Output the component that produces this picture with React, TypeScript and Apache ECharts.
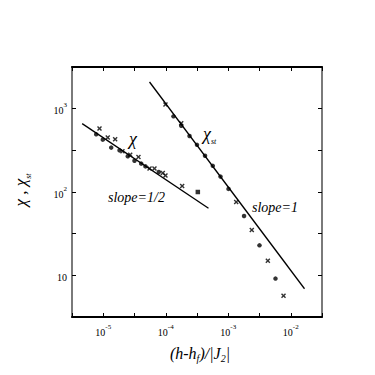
import React, { useEffect, useRef } from "react";
import * as echarts from "echarts";

// χ series (raw values)
const chiDots: [number, number][] = [
  [7.71e-6, 492], [9.84e-6, 425], [1.34e-5, 341], [1.82e-5, 316], [2.47e-5, 268],
  [3.16e-5, 237], [4.05e-5, 219], [4.74e-5, 203], [7.74e-5, 174],
];
const chiCrosses: [number, number][] = [
  [8.71e-6, 577], [1.18e-5, 450], [1.55e-5, 429], [2.03e-5, 308], [2.7e-5, 279],
  [3.66e-5, 263], [5.5e-5, 191], [6.6e-5, 191], [8.97e-5, 169], [9.9e-5, 158],
  [1.83e-4, 118],
];
const chiSquares: [number, number][] = [[3.26e-4, 100]];

// χ_st series
const chiStCrosses: [number, number][] = [
  [9.9e-5, 1119], [1.77e-4, 667], [1.34e-3, 75.9], [2.38e-3, 35.0], [4.3e-3, 15.0], [7.66e-3, 5.68],
];
const chiStDots: [number, number][] = [
  [1.33e-4, 809], [1.77e-4, 622], [2.4e-4, 470], [3.16e-4, 368], [4.25e-4, 272],
  [5.66e-4, 206], [7.52e-4, 153], [1.01e-3, 109], [1.79e-3, 51.5], [3.16e-3, 22.9], [5.7e-3, 9.14],
];

// fitted power-law lines (endpoints)
const chiFit: [number, number][] = [[4.6e-6, 662], [4.83e-4, 63.7]];
const chiStFit: [number, number][] = [[5.5e-5, 2090], [1.66e-2, 6.9]];

const xLabelExps = [-5, -4, -3, -2];
const yLabelExps = [1, 2, 3];

const toLog = (arr: [number, number][]) => arr.map(([x, y]) => [Math.log10(x), Math.log10(y)]);

const SERIF = "'Liberation Serif', 'DejaVu Serif', serif";
const CROSS = "path://M0,2L2,0L5,3L8,0L10,2L7,5L10,8L8,10L5,7L2,10L0,8L3,5Z";

export default function App() {
  const ref = useRef<HTMLDivElement>(null);
  useEffect(() => {
    if (!ref.current) return;
    const chart = echarts.init(ref.current, undefined, { renderer: "svg" });
    const supFmt = (exps: number[]) => (v: number) => {
      const r = Math.round(v);
      if (Math.abs(v - r) > 1e-6 || !exps.includes(r)) return "";
      if (r === 1) return "{b|10}";
      return `{b|10}{s|${r}}`;
    };
    const rich = {
      b: { fontSize: 10, fontFamily: SERIF, color: "#000", lineHeight: 14, verticalAlign: "bottom" },
      s: { fontSize: 7, fontFamily: SERIF, color: "#000", lineHeight: 8, verticalAlign: "top" },
    };
    const grayLine = { lineStyle: { color: "#7a7a7a", width: 2 } };
    const blackLine = { lineStyle: { color: "#000", width: 2 } };
    const tick = { show: true, inside: true, length: 4, lineStyle: { color: "#000", width: 1 } };
    const scatterBase = { type: "scatter", xAxisIndex: 0, yAxisIndex: 0, z: 3 };
    chart.setOption({
      animation: false,
      backgroundColor: "#fff",
      grid: { left: 72, right: 53, top: 67, bottom: 58, containLabel: false },
      xAxis: [
        {
          type: "value", min: -5.5, max: -1.5, interval: 0.5, position: "bottom",
          axisLine: { show: true, onZero: false, ...blackLine },
          axisTick: tick, splitLine: { show: false },
          axisLabel: { formatter: supFmt(xLabelExps), rich, margin: 6, showMinLabel: true, showMaxLabel: true },
        },
        {
          type: "value", min: -5.5, max: -1.5, interval: 0.5, position: "top",
          axisLine: { show: true, onZero: false, ...blackLine },
          axisTick: tick, splitLine: { show: false }, axisLabel: { show: false },
        },
      ],
      yAxis: [
        {
          type: "value", min: 0.5, max: 3.5, interval: 0.5, position: "left",
          axisLine: { show: true, onZero: false, ...grayLine },
          axisTick: tick, splitLine: { show: false },
          axisLabel: { formatter: supFmt(yLabelExps), rich, margin: 5 },
        },
        {
          type: "value", min: 0.5, max: 3.5, interval: 0.5, position: "right",
          axisLine: { show: true, onZero: false, ...grayLine },
          axisTick: tick, splitLine: { show: false }, axisLabel: { show: false },
        },
      ],
      series: [
        { type: "line", data: toLog(chiFit), symbol: "none", lineStyle: { color: "#000", width: 1.3 }, z: 2 },
        { type: "line", data: toLog(chiStFit), symbol: "none", lineStyle: { color: "#000", width: 1.3 }, z: 2 },
        { ...scatterBase, data: toLog(chiDots), symbol: "circle", symbolSize: 4.5, itemStyle: { color: "#000" } },
        { ...scatterBase, data: toLog(chiCrosses), symbol: CROSS, symbolSize: 5, itemStyle: { color: "#000" } },
        { ...scatterBase, data: toLog(chiSquares), symbol: "rect", symbolSize: 4.5, itemStyle: { color: "#000" } },
        { ...scatterBase, data: toLog(chiStDots), symbol: "circle", symbolSize: 4.5, itemStyle: { color: "#000" } },
        { ...scatterBase, data: toLog(chiStCrosses), symbol: CROSS, symbolSize: 5, itemStyle: { color: "#000" } },
      ],
      graphic: [
        {
          type: "text", x: 133, y: 139,
          style: { text: "χ", font: `italic 18px ${SERIF}`, fill: "#000", align: "center", verticalAlign: "middle" },
        },
        {
          type: "text", x: 203, y: 135,
          style: {
            text: "{c|χ}{s|st}", align: "left", verticalAlign: "middle",
            rich: {
              c: { font: `italic 18px ${SERIF}`, fill: "#000", lineHeight: 20, verticalAlign: "top" },
              s: { font: `italic 8px ${SERIF}`, fill: "#000", lineHeight: 8, verticalAlign: "bottom" },
            },
          },
        },
        {
          type: "text", x: 108, y: 197,
          style: { text: "slope=1/2", font: `italic 14px ${SERIF}`, fill: "#000", align: "left", verticalAlign: "middle" },
        },
        {
          type: "text", x: 252, y: 207,
          style: { text: "slope=1", font: `italic 14px ${SERIF}`, fill: "#000", align: "left", verticalAlign: "middle" },
        },
        {
          type: "text", x: 200, y: 354,
          style: {
            text: "{t|(h-h}{s|f}{t|)/|J}{s|2}{t||}", align: "center", verticalAlign: "middle",
            rich: {
              t: { font: `italic 16px ${SERIF}`, fill: "#000", lineHeight: 18, verticalAlign: "top" },
              s: { font: `italic 10px ${SERIF}`, fill: "#000", lineHeight: 10, verticalAlign: "bottom" },
            },
          },
        },
        {
          type: "text", x: 22, y: 190, rotation: Math.PI / 2,
          style: {
            text: "{t|χ , χ}{s|st}", align: "center", verticalAlign: "middle",
            rich: {
              t: { font: `italic 17px ${SERIF}`, fill: "#000", lineHeight: 20, verticalAlign: "top" },
              s: { font: `italic 8px ${SERIF}`, fill: "#000", lineHeight: 8, verticalAlign: "bottom" },
            },
          },
        },
      ],
    });
    return () => chart.dispose();
  }, []);
  return <div ref={ref} style={{ position: "fixed", left: 0, top: 0, width: 375, height: 375 }} />;
}
